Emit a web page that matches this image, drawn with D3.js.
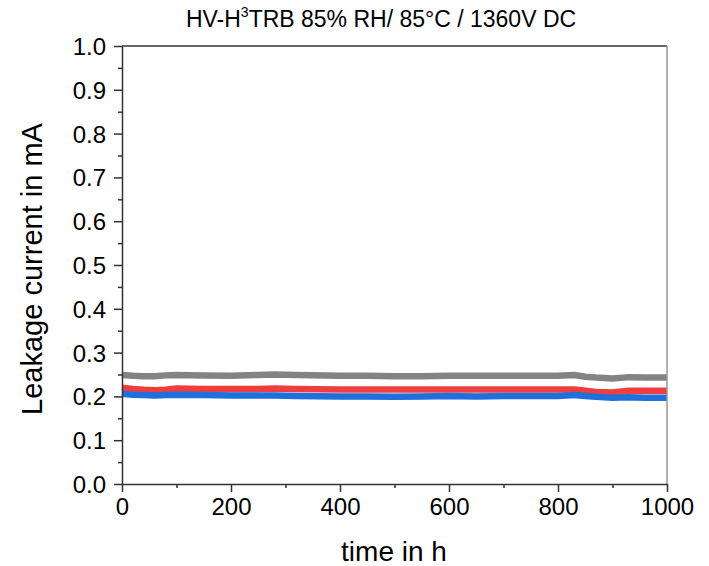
<!DOCTYPE html>
<html><head><meta charset="utf-8">
<script src="https://cdn.jsdelivr.net/npm/d3@7"></script>
<style>body{margin:0;background:#fff}svg{display:block}text{font-family:"Liberation Sans",Arial,sans-serif;fill:#000}</style>
</head><body><svg id="c" width="709" height="566"></svg>
<script>
const time = [0,20,40,60,80,100,150,200,250,280,320,400,450,500,550,600,650,700,750,800,830,850,870,900,930,960,1000];
const gray = [0.249,0.247,0.246,0.246,0.248,0.249,0.248,0.247,0.249,0.250,0.249,0.247,0.247,0.246,0.246,0.247,0.247,0.247,0.247,0.247,0.249,0.245,0.243,0.241,0.244,0.243,0.243];
const red  = [0.220,0.217,0.215,0.214,0.215,0.218,0.217,0.217,0.217,0.218,0.217,0.216,0.216,0.216,0.216,0.216,0.216,0.216,0.216,0.216,0.216,0.213,0.210,0.209,0.213,0.213,0.213];
const blue = [0.206,0.204,0.203,0.202,0.203,0.204,0.203,0.202,0.202,0.202,0.201,0.200,0.200,0.199,0.200,0.201,0.200,0.201,0.201,0.201,0.203,0.201,0.199,0.197,0.198,0.197,0.197];
const yTicks = [0,0.1,0.2,0.3,0.4,0.5,0.6,0.7,0.8,0.9,1.0];
const xTicks = [0,200,400,600,800,1000];
const series = [{v:gray,c:"#838383"},{v:red,c:"#ef3e3e"},{v:blue,c:"#1f6fdc"}];

const L=122,R=667,T=46,B=484;
const svg=d3.select("#c");
const x=d3.scaleLinear().domain([0,1000]).range([L,R]);
const y=d3.scaleLinear().domain([0,1]).range([B,T]);

const line=d3.line().x((d,i)=>x(time[i])).y(d=>y(d)).curve(d3.curveLinear);
series.forEach(s=>{
  svg.append("path").attr("d",line(s.v)).attr("fill","none").attr("stroke",s.c).attr("stroke-width",6.5).attr("stroke-linejoin","round");
});

// frame
svg.append("line").attr("x1",L).attr("x2",R).attr("y1",T).attr("y2",T).attr("stroke","#333").attr("stroke-width",1.5);
svg.append("line").attr("x1",R).attr("x2",R).attr("y1",T).attr("y2",B).attr("stroke","#999").attr("stroke-width",1.5);

// y axis
const ya=svg.append("g").attr("transform",`translate(${L},0)`)
  .call(d3.axisLeft(y).tickValues(yTicks).tickFormat(d3.format(".1f")).tickSize(8).tickSizeOuter(0));
svg.append("g").attr("transform",`translate(${L},0)`)
  .call(d3.axisLeft(y).tickValues(d3.range(0.05,1,0.1)).tickFormat("").tickSize(4).tickSizeOuter(0))
  .select(".domain").remove();
// x axis
const xa=svg.append("g").attr("transform",`translate(0,${B})`)
  .call(d3.axisBottom(x).tickValues(xTicks).tickFormat(d3.format("d")).tickSize(8).tickSizeOuter(0));
svg.append("g").attr("transform",`translate(0,${B})`)
  .call(d3.axisBottom(x).tickValues(d3.range(100,1000,200)).tickFormat("").tickSize(4).tickSizeOuter(0))
  .select(".domain").remove();

svg.selectAll(".domain").attr("stroke","#333").attr("stroke-width",1.5);
svg.selectAll(".tick line").attr("stroke","#333").attr("stroke-width",1.5);
svg.selectAll(".tick text").attr("font-size",24).attr("font-family","'Liberation Sans',Arial,sans-serif").attr("fill","#000");
ya.selectAll(".tick text").attr("x",-16).attr("dy","0.35em");
xa.selectAll(".tick text").attr("y",14);

// labels
const t=svg.append("text").attr("x",381).attr("y",27).attr("text-anchor","middle").attr("font-size",23);
t.append("tspan").text("HV-H");
t.append("tspan").text("3").attr("font-size",14).attr("dy",-10);
t.append("tspan").text("TRB 85% RH/ 85°C / 1360V DC").attr("dy",10);
svg.append("text").attr("x",394).attr("y",561).attr("text-anchor","middle").attr("font-size",28).text("time in h");
svg.append("text").attr("transform","translate(42,269) rotate(-90)").attr("text-anchor","middle").attr("font-size",29).text("Leakage current in mA");
</script></body></html>
